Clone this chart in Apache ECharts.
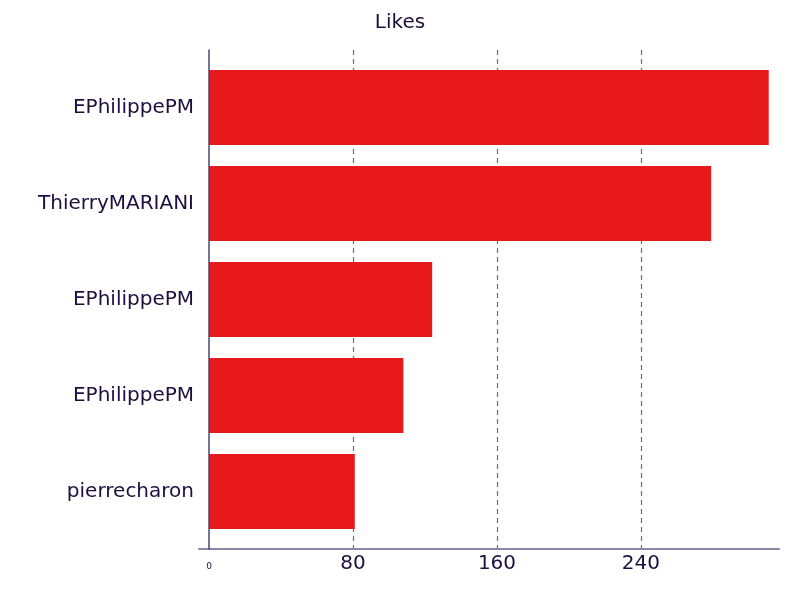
<!DOCTYPE html>
<html>
<head>
<meta charset="utf-8">
<script src="https://cdn.jsdelivr.net/npm/echarts@6/dist/echarts.min.js"></script>
<style>html,body{margin:0;padding:0;background:#fff}#c{width:800px;height:600px}</style>
</head>
<body>
<div id="c"></div>
<script>
const categories = ['EPhilippePM', 'ThierryMARIANI', 'EPhilippePM', 'EPhilippePM', 'pierrecharon'];
const likes = [311, 279, 124, 108, 81];
const tickValues = [0, 80, 160, 240];
const axisTitle = 'Likes';

const xMax = 316.7;
const xMinExt = -5.56;
const textColor = '#1f0f3f';
const font = 'DejaVu Sans';

const chart = echarts.init(document.getElementById('c'), null, {renderer: 'canvas'});
chart.setOption({
  animation: false,
  backgroundColor: '#ffffff',
  title: {
    text: axisTitle, left: 'center', top: 8,
    textStyle: {fontFamily: font, fontSize: 20, fontWeight: 'normal', color: textColor}
  },
  grid: [
    {left: 199, right: 21, top: 50, bottom: 51},
    {left: 209, right: 21, top: 59.5, height: 480}
  ],
  xAxis: [
    {
      type: 'value', gridIndex: 0, min: xMinExt, max: xMax, z: 1,
      axisLine: {show: true, onZero: false, lineStyle: {color: '#8e84a6', width: 2}},
      axisTick: {show: false, customValues: tickValues.filter(v => v !== 0)},
      axisLabel: {
        customValues: tickValues, fontFamily: font, fontSize: 20, color: textColor, margin: 5,
        formatter: v => v === 0 ? '{s|0}' : String(v),
        rich: {s: {fontSize: 9, fontFamily: font, color: textColor, padding: [8, 0, 0, 0]}}
      },
      splitLine: {show: true, lineStyle: {color: '#6e6590', type: [5, 4], width: 1.2}}
    },
    {
      type: 'value', gridIndex: 1, min: 0, max: xMax,
      axisLine: {show: false}, axisTick: {show: false}, axisLabel: {show: false}, splitLine: {show: false}
    }
  ],
  yAxis: [
    {
      type: 'value', gridIndex: 0, min: 0, max: 1, z: 10,
      axisLine: {show: true, onZero: true, lineStyle: {color: '#4e4470', width: 1.5}},
      axisTick: {show: false}, axisLabel: {show: false}, splitLine: {show: false}
    },
    {
      type: 'category', gridIndex: 1, data: categories, inverse: true,
      axisLine: {show: false}, axisTick: {show: false}, splitLine: {show: false},
      axisLabel: {fontFamily: font, fontSize: 20, color: textColor, margin: 15}
    }
  ],
  series: [{
    type: 'bar', xAxisIndex: 1, yAxisIndex: 1, data: likes,
    barWidth: 75,
    itemStyle: {color: '#e8191a'}
  }]
});
</script>
</body>
</html>
